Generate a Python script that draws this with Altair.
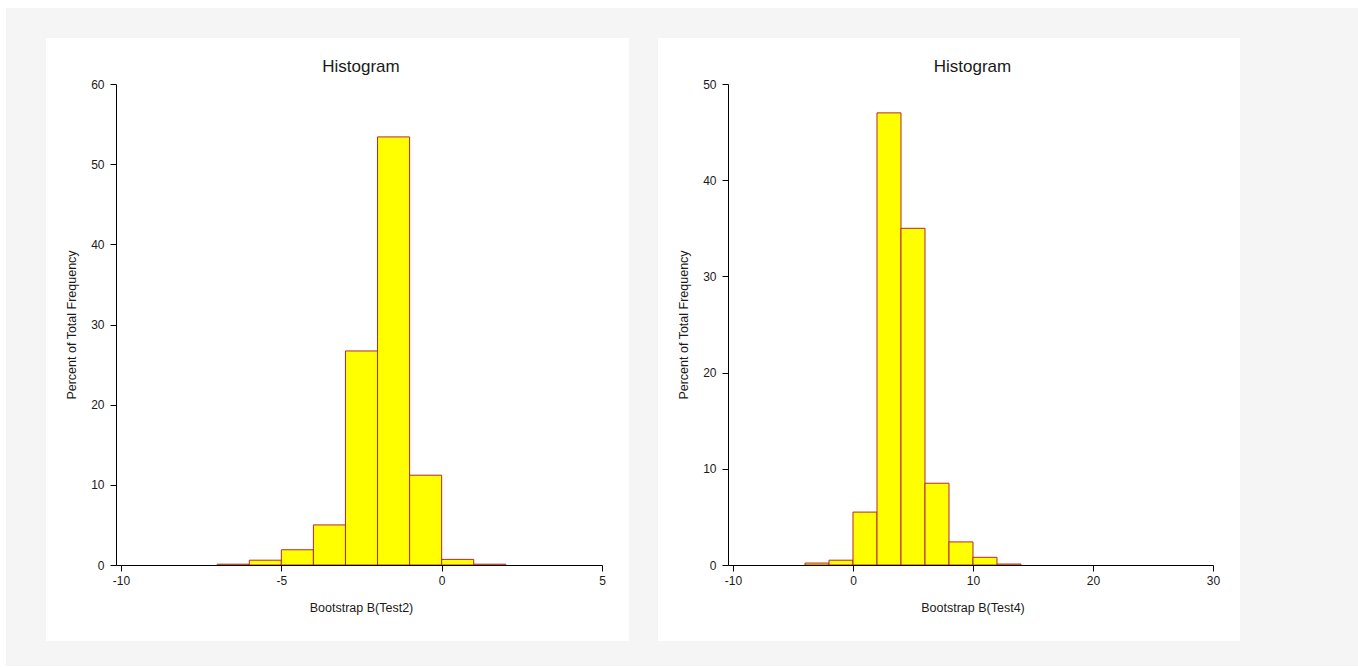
import altair as alt
import pandas as pd

FONT = "Liberation Sans"
INK = "#1a1a1a"

# Bootstrap B(Test2): percent of total frequency per bin of width 1
test2_start = [-7, -6, -5, -4, -3, -2, -1, 0, 1]
test2_pct = [0.1, 0.6, 1.9, 5.0, 26.7, 53.4, 11.2, 0.7, 0.1]
test2_width = 1
test2_xticks = [-10, -5, 0, 5]
test2_yticks = [0, 10, 20, 30, 40, 50, 60]

# Bootstrap B(Test4): percent of total frequency per bin of width 2
test4_start = [-4, -2, 0, 2, 4, 6, 8, 10, 12]
test4_pct = [0.2, 0.5, 5.5, 47.0, 35.0, 8.5, 2.4, 0.8, 0.1]
test4_width = 2
test4_xticks = [-10, 0, 10, 20, 30]
test4_yticks = [0, 10, 20, 30, 40, 50]

PLOT_H = 481
one_row = pd.DataFrame({"t": ["Histogram"]})


def axis(values, title, **kw):
    return alt.Axis(
        values=values, title=title, grid=False, zindex=1,
        domainColor="black", domainWidth=1, tickColor="black", tickSize=6, tickWidth=1,
        labelFont=FONT, labelFontSize=12, labelColor=INK, labelFlush=False,
        labelExpr="datum.value + ''",
        titleFont=FONT, titleFontSize=12.5, titleFontWeight="normal", titleColor=INK,
        **kw,
    )


def panel(starts, pct, bw, xdom, xticks, ymax, yticks, xtitle, width, backdrop=False):
    df = pd.DataFrame({"lo": starts, "hi": [s + bw for s in starts], "pct": pct})

    bars = alt.Chart(df).mark_rect(fill="#FFFF00", stroke="#B4282E", strokeWidth=1).encode(
        x=alt.X("lo:Q", scale=alt.Scale(domain=xdom, nice=False, zero=False),
                axis=axis(xticks, xtitle, labelPadding=4, titleX=width / 2 + 2, titleY=46,
                          titleBaseline="alphabetic", titleAlign="center")),
        x2="hi:Q",
        y=alt.Y("pct:Q", scale=alt.Scale(domain=[0, ymax], nice=False),
                axis=axis(yticks, "Percent of Total Frequency", labelPadding=6,
                          titleX=-41, titleY=PLOT_H / 2, titleAngle=-90,
                          titleBaseline="alphabetic", titleAlign="center")),
        y2=alt.datum(0),
    )

    card = alt.Chart(one_row).mark_rect(fill="white").encode(
        x=alt.value(-70), x2=alt.value(width + 27), y=alt.value(-46), y2=alt.value(PLOT_H + 76)
    )

    title = alt.Chart(one_row).mark_text(
        font=FONT, fontSize=17, color=INK, align="center", baseline="alphabetic"
    ).encode(text="t:N", x=alt.value(width / 2 + 2), y=alt.value(-12))

    layers = [card, bars, title]
    if backdrop:
        page = alt.Chart(one_row).mark_rect(fill="#f5f5f5").encode(
            x=alt.value(-110), x2=alt.value(1242), y=alt.value(-76), y2=alt.value(582)
        )
        layers = [page] + layers

    return alt.layer(*layers).properties(width=width, height=PLOT_H)


left = panel(test2_start, test2_pct, test2_width, [-10.156, 5], test2_xticks,
             60, test2_yticks, "Bootstrap B(Test2)", 486, backdrop=True)
right = panel(test4_start, test4_pct, test4_width, [-10.416, 30], test4_xticks,
              50, test4_yticks, "Bootstrap B(Test4)", 485)

chart = (
    alt.hconcat(left, right, spacing=126, bounds="flush")
    .properties(background="white", padding={"left": 6, "top": 8, "right": 0, "bottom": 0})
    .configure_view(strokeWidth=0)
)

chart.save("out.html", embed_options={"renderer": "svg", "actions": False})
